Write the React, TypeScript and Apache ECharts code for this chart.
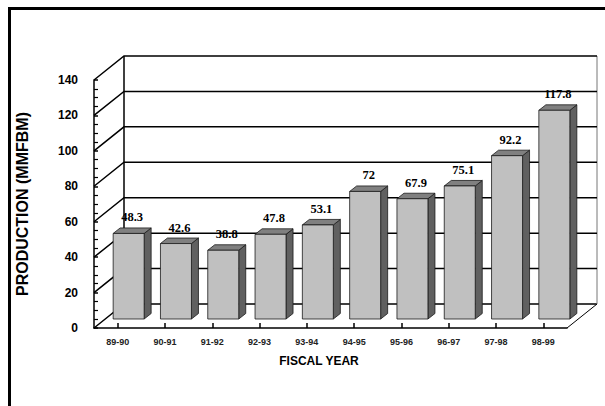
import React, { useEffect, useRef } from "react";
import * as echarts from "echarts";

const categories = ["89-90", "90-91", "91-92", "92-93", "93-94", "94-95", "95-96", "96-97", "97-98", "98-99"];
const production = [48.3, 42.6, 38.8, 47.8, 53.1, 72, 67.9, 75.1, 92.2, 117.8];
const yTicks = [0, 20, 40, 60, 80, 100, 120, 140];
const yMin = 0;
const yMax = 140;
const yInterval = 20;

// 3D geometry (pixels)
const WALL_DX = 30;
const WALL_DY = -24;
const BAR_DX = 11;
const BAR_DY = -9;
const BAR_DEPTH_X = 7;
const BAR_DEPTH_Y = -5.5;
const BAR_WIDTH_RATIO = 0.655;

export default function App() {
  const ref = useRef<HTMLDivElement>(null);

  useEffect(() => {
    if (!ref.current) return;
    const chart = echarts.init(ref.current, undefined, { renderer: "svg" });

    const lineStyle = { stroke: "#000", lineWidth: 1.5 };

    const option: any = {
      animation: false,
      backgroundColor: "#fff",
      graphic: [
        {
          type: "rect",
          shape: { x: 9.5, y: 8.5, width: 700, height: 500 },
          style: { fill: "none", stroke: "#000", lineWidth: 3 },
          z: 100,
        },
      ],
      grid: { left: 94, right: 38, top: 80, bottom: 78 },
      xAxis: {
        type: "category",
        data: categories,
        name: "FISCAL YEAR",
        nameLocation: "middle",
        nameGap: 27,
        nameTextStyle: {
          fontFamily: "Liberation Sans",
          fontWeight: "bold",
          fontSize: 12,
          color: "#000",
          padding: [0, 23, 0, 0],
        },
        axisLine: { show: true, lineStyle: { color: "#000", width: 1.5 } },
        axisTick: { show: true, inside: true, length: 5, alignWithLabel: true, lineStyle: { color: "#000", width: 1.5 } },
        axisLabel: {
          fontFamily: "Liberation Sans",
          fontWeight: "bold",
          fontSize: 9,
          color: "#222",
          margin: 9,
        },
        splitLine: { show: false },
      },
      yAxis: {
        type: "value",
        min: yMin,
        max: yMax,
        interval: yInterval,
        name: "PRODUCTION (MMFBM)",
        nameLocation: "middle",
        nameGap: 64,
        nameTextStyle: {
          fontFamily: "Liberation Sans",
          fontWeight: "bold",
          fontSize: 16,
          color: "#000",
          padding: [7, 0, 0, 0],
        },
        axisLine: { show: true, lineStyle: { color: "#000", width: 1.5 } },
        axisTick: { show: true, inside: true, length: 4, lineStyle: { color: "#000", width: 1.5 } },
        minorTick: { show: true, splitNumber: 4, length: 4, lineStyle: { color: "#000", width: 1.2 } },
        axisLabel: {
          fontFamily: "Liberation Sans",
          fontWeight: "bold",
          fontSize: 12,
          color: "#000",
          margin: 16,
        },
        splitLine: { show: false },
      },
      series: [
        {
          type: "custom",
          name: "labels",
          z: 1,
          data: production.map((v, i) => [i, v]),
          encode: { x: 0, y: 1 },
          renderItem: (params: any, api: any) => {
            const idx = api.value(0);
            const val = api.value(1);
            const top = api.coord([idx, val]);
            const cx = top[0] + BAR_DX + BAR_DEPTH_X / 2;
            const ty = top[1] + BAR_DY - 16;
            return {
              type: "text",
              x: cx,
              y: ty,
              style: {
                text: String(val),
                align: "center",
                verticalAlign: "middle",
                font: 'bold 12.5px "Liberation Serif"',
                fill: "#000",
              },
            };
          },
        },
        {
          type: "custom",
          name: "walls",
          z: 2,
          data: yTicks.map((v) => [0, v]),
          encode: { x: 0, y: 1 },
          renderItem: (params: any, api: any) => {
            const cs = params.coordSys;
            const v = api.value(1);
            const y = api.coord([0, v])[1];
            const left = cs.x;
            const right = cs.x + cs.width;
            const children: any[] = [
              {
                type: "polyline",
                shape: {
                  points: [
                    [left, y],
                    [left + WALL_DX, y + WALL_DY],
                    [right + WALL_DX, y + WALL_DY],
                  ],
                },
                style: { ...lineStyle, fill: "none" },
              },
            ];
            if (v === yMin) {
              const yTop = api.coord([0, yMax])[1];
              children.push(
                {
                  type: "line",
                  shape: { x1: left + WALL_DX, y1: y + WALL_DY, x2: left + WALL_DX, y2: yTop + WALL_DY },
                  style: lineStyle,
                },
                {
                  type: "line",
                  shape: { x1: right + WALL_DX, y1: y + WALL_DY, x2: right + WALL_DX, y2: yTop + WALL_DY },
                  style: { stroke: "#777", lineWidth: 1 },
                },
                {
                  type: "line",
                  shape: { x1: right, y1: y, x2: right + WALL_DX, y2: y + WALL_DY },
                  style: { stroke: "#000", lineWidth: 1 },
                }
              );
            }
            return { type: "group", children };
          },
        },
        {
          type: "custom",
          name: "bars",
          z: 3,
          data: production.map((v, i) => [i, v]),
          encode: { x: 0, y: 1 },
          renderItem: (params: any, api: any) => {
            const idx = api.value(0);
            const val = api.value(1);
            const top = api.coord([idx, val]);
            const base = api.coord([idx, 0]);
            const band = api.size([1, 0])[0];
            const w = band * BAR_WIDTH_RATIO;
            const cx = top[0] + BAR_DX;
            const x0 = cx - w / 2;
            const x1 = cx + w / 2;
            const yT = top[1] + BAR_DY;
            const yB = base[1] + BAR_DY;
            const edge = { stroke: "#1a1a1a", lineWidth: 0.8 };
            return {
              type: "group",
              children: [
                {
                  type: "polygon",
                  shape: {
                    points: [
                      [x1, yT],
                      [x1 + BAR_DEPTH_X, yT + BAR_DEPTH_Y],
                      [x1 + BAR_DEPTH_X, yB + BAR_DEPTH_Y],
                      [x1, yB],
                    ],
                  },
                  style: { fill: "#606060", ...edge },
                },
                {
                  type: "polygon",
                  shape: {
                    points: [
                      [x0, yT],
                      [x0 + BAR_DEPTH_X, yT + BAR_DEPTH_Y],
                      [x1 + BAR_DEPTH_X, yT + BAR_DEPTH_Y],
                      [x1, yT],
                    ],
                  },
                  style: { fill: "#808080", ...edge },
                },
                {
                  type: "rect",
                  shape: { x: x0, y: yT, width: w, height: yB - yT },
                  style: { fill: "#c0c0c0", ...edge },
                },
              ],
            };
          },
        },
      ],
    };

    chart.setOption(option);
    return () => chart.dispose();
  }, []);

  return (
    <div
      ref={ref}
      style={{ position: "fixed", left: 0, top: 0, width: 605, height: 406, background: "#fff" }}
    />
  );
}
